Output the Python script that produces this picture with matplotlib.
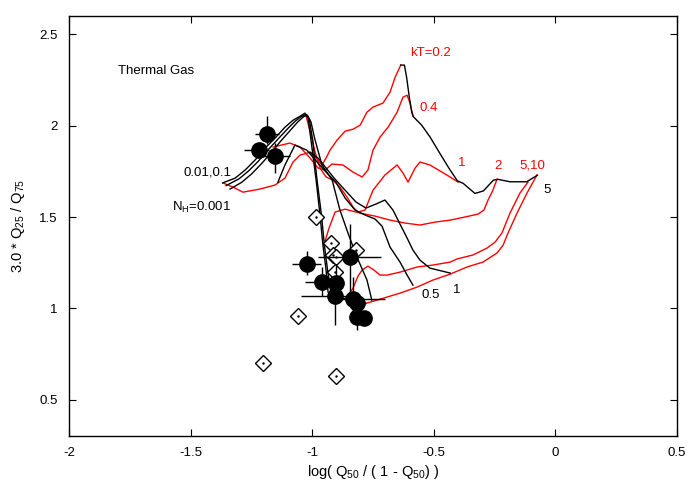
import numpy as np
import matplotlib
matplotlib.use("Agg")
import matplotlib.pyplot as plt

plt.rcParams['font.family'] = ['Liberation Sans', 'DejaVu Sans']
plt.rcParams['mathtext.fontset'] = 'custom'
plt.rcParams['mathtext.rm'] = 'Liberation Sans'
plt.rcParams['mathtext.it'] = 'Liberation Sans:italic'

# model grid: black = constant NH, red = constant kT
nh_001_x = [-1.368, -1.317, -1.276, -1.235, -1.194, -1.153, -1.112, -1.079, -1.050, -1.030, -1.017,
            -1.005, -0.984, -0.968, -0.956, -0.943, -0.935, -0.906, -0.857, -0.803]
nh_001_y = [1.687, 1.713, 1.757, 1.812, 1.877, 1.932, 1.992, 2.030, 2.052, 2.069, 2.041,
            1.921, 1.702, 1.511, 1.346, 1.209, 1.089, 1.045, 1.056, 1.018]
nh_01_x = [-1.354, -1.300, -1.262, -1.222, -1.180, -1.140, -1.100, -1.070, -1.045, -1.026, -1.012,
           -0.998, -0.980, -0.962, -0.950, -0.937, -0.925, -0.895, -0.850, -0.800]
nh_01_y = [1.672, 1.710, 1.752, 1.805, 1.870, 1.928, 1.985, 2.025, 2.050, 2.062, 2.035,
           1.920, 1.700, 1.510, 1.346, 1.210, 1.100, 1.060, 1.045, 1.010]
nh_1_x = [-1.338, -1.290, -1.250, -1.210, -1.170, -1.130, -1.090, -1.060, -1.035, -1.020, -1.005,
          -0.990, -0.960, -0.918, -0.886, -0.853, -0.816, -0.775, -0.755]
nh_1_y = [1.653, 1.690, 1.735, 1.790, 1.850, 1.915, 1.975, 2.020, 2.050, 2.058, 2.020,
          1.930, 1.785, 1.702, 1.538, 1.412, 1.280, 1.155, 1.045]
nh_05_x = [-1.141, -1.112, -1.071, -1.022, -0.976, -0.943, -0.903, -0.865, -0.824, -0.783, -0.742,
           -0.713, -0.680, -0.639, -0.610, -0.586]
nh_05_y = [1.691, 1.785, 1.894, 1.866, 1.795, 1.746, 1.691, 1.604, 1.538, 1.511, 1.489,
           1.450, 1.335, 1.253, 1.182, 1.127]
nh_10_x = [-1.009, -0.976, -0.943, -0.910, -0.865, -0.820, -0.779, -0.738, -0.701, -0.668, -0.639,
           -0.610, -0.586, -0.557, -0.516, -0.433]
nh_10_y = [1.855, 1.823, 1.768, 1.713, 1.647, 1.582, 1.549, 1.571, 1.593, 1.538, 1.461,
           1.385, 1.319, 1.264, 1.220, 1.193]
nh_50_x = [-0.636, -0.621, -0.612, -0.601, -0.591, -0.584, -0.550, -0.516, -0.475, -0.433, -0.403,
           -0.379, -0.331, -0.296, -0.255, -0.235, -0.187, -0.118, -0.074]
nh_50_y = [2.332, 2.332, 2.266, 2.158, 2.076, 2.049, 2.003, 1.939, 1.848, 1.757, 1.698,
           1.684, 1.629, 1.643, 1.702, 1.706, 1.693, 1.693, 1.729]

kt_02_x = [-1.368, -1.326, -1.285, -1.215, -1.153, -1.112, -1.079, -1.050, -1.009, -0.976, -0.960,
           -0.943, -0.927, -0.898, -0.865, -0.832, -0.803, -0.775, -0.750, -0.709, -0.680, -0.659, -0.636]
kt_02_y = [1.687, 1.664, 1.636, 1.653, 1.675, 1.713, 1.801, 1.839, 1.855, 1.812, 1.785,
           1.823, 1.866, 1.921, 1.970, 1.981, 2.003, 2.074, 2.102, 2.124, 2.184, 2.266, 2.332]
kt_04_x = [-1.161, -1.092, -1.050, -1.009, -0.976, -0.947, -0.919, -0.874, -0.832, -0.795, -0.771,
           -0.750, -0.721, -0.688, -0.651, -0.627, -0.610, -0.598, -0.586]
kt_04_y = [1.883, 1.905, 1.883, 1.823, 1.768, 1.757, 1.790, 1.785, 1.746, 1.719, 1.757,
           1.866, 1.938, 1.992, 2.074, 2.156, 2.167, 2.124, 2.052]
kt_1_x = [-1.025, -1.005, -0.988, -0.968, -0.943, -0.915, -0.886, -0.857, -0.832, -0.812, -0.783,
          -0.750, -0.701, -0.651, -0.627, -0.606, -0.577, -0.557, -0.516, -0.433, -0.400]
kt_1_y = [2.052, 1.948, 1.855, 1.768, 1.719, 1.702, 1.664, 1.609, 1.554, 1.527, 1.538,
          1.647, 1.730, 1.785, 1.741, 1.691, 1.768, 1.801, 1.785, 1.719, 1.691]
kt_2_x = [-0.952, -0.931, -0.906, -0.865, -0.803, -0.742, -0.680, -0.619, -0.557, -0.495, -0.433,
          -0.372, -0.318, -0.294, -0.277, -0.257, -0.240]
kt_2_y = [1.346, 1.439, 1.527, 1.543, 1.521, 1.505, 1.483, 1.467, 1.456, 1.472, 1.483,
          1.500, 1.516, 1.538, 1.593, 1.647, 1.708]
kt_5_x = [-0.857, -0.832, -0.812, -0.795, -0.771, -0.746, -0.721, -0.692, -0.639, -0.569, -0.503,
          -0.433, -0.405, -0.339, -0.281, -0.248, -0.220, -0.187, -0.146, -0.113]
kt_5_y = [1.061, 1.111, 1.176, 1.209, 1.231, 1.209, 1.182, 1.182, 1.198, 1.226, 1.237,
          1.253, 1.270, 1.292, 1.330, 1.363, 1.412, 1.521, 1.631, 1.691]
kt_10_x = [-0.803, -0.733, -0.639, -0.569, -0.503, -0.433, -0.364, -0.298, -0.240, -0.215, -0.195,
           -0.158, -0.117, -0.076]
kt_10_y = [1.018, 1.045, 1.083, 1.116, 1.155, 1.187, 1.226, 1.253, 1.303, 1.346, 1.412,
           1.521, 1.631, 1.730]

# sources with errors
src_x = [-1.187, -1.219, -1.153, -1.022, -0.846, -0.961, -0.901, -0.906, -0.831, -0.817, -0.817, -0.787]
src_y = [1.952, 1.866, 1.833, 1.242, 1.282, 1.145, 1.140, 1.067, 1.049, 1.027, 0.950, 0.945]
src_xlo = [0.05, 0.06, 0.06, 0.06, 0.13, 0.07, 0.03, 0.14, 0.05, 0.04, 0.03, 0.03]
src_xhi = [0.05, 0.04, 0.06, 0.06, 0.13, 0.03, 0.03, 0.10, 0.13, 0.04, 0.03, 0.03]
src_ylo = [0.05, 0.03, 0.09, 0.06, 0.22, 0.08, 0.05, 0.16, 0.10, 0.05, 0.07, 0.03]
src_yhi = [0.10, 0.03, 0.07, 0.07, 0.18, 0.08, 0.10, 0.09, 0.12, 0.05, 0.04, 0.03]

# other sources (open diamonds)
dia_x = [-0.984, -0.922, -0.820, -0.913, -0.903, -0.906, -1.057, -1.204, -0.901]
dia_y = [1.501, 1.360, 1.322, 1.291, 1.280, 1.198, 0.957, 0.702, 0.629]

fig = plt.figure(figsize=(7, 4.9), dpi=100)
ax = fig.add_axes([0.0986, 0.110, 0.8686, 0.857])

black = [(nh_001_x, nh_001_y), (nh_01_x, nh_01_y), (nh_1_x, nh_1_y),
         (nh_05_x, nh_05_y), (nh_10_x, nh_10_y), (nh_50_x, nh_50_y)]
red = [(kt_02_x, kt_02_y), (kt_04_x, kt_04_y), (kt_1_x, kt_1_y),
       (kt_2_x, kt_2_y), (kt_5_x, kt_5_y), (kt_10_x, kt_10_y)]
for xs, ys in red:
    ax.plot(xs, ys, color='red', lw=1.0)
for xs, ys in black:
    ax.plot(xs, ys, color='black', lw=1.0)

ax.plot(dia_x, dia_y, 'D', ms=8, mfc='white', mec='black', mew=1.0, ls='none')
ax.plot(dia_x, dia_y, '.', ms=1.5, color='black', ls='none')

ax.errorbar(src_x, src_y, xerr=[src_xlo, src_xhi], yerr=[src_ylo, src_yhi],
            fmt='o', color='black', ms=11, elinewidth=1.0, capsize=0)

fs = 9.5
ax.text(-1.799, 2.299, 'Thermal Gas', fontsize=fs, va='center')
ax.text(-1.531, 1.746, '0.01,0.1', fontsize=fs, va='center')
ax.text(-1.578, 1.554, r'N$_\mathrm{H}$=0.001', fontsize=fs, va='center')
ax.text(-0.036, 1.647, '5', fontsize=fs, va='center', ha='center')
ax.text(-0.550, 1.072, '0.5', fontsize=fs, va='center')
ax.text(-0.406, 1.100, '1', fontsize=fs, va='center', ha='center')
ax.text(-0.598, 2.398, 'kT=0.2', fontsize=fs, va='center', color='red')
ax.text(-0.557, 2.096, '0.4', fontsize=fs, va='center', color='red')
ax.text(-0.385, 1.795, '1', fontsize=fs, va='center', ha='center', color='red')
ax.text(-0.235, 1.780, '2', fontsize=fs, va='center', ha='center', color='red')
ax.text(-0.150, 1.780, '5,10', fontsize=fs, va='center', color='red')

ax.set_xlim(-2, 0.5)
ax.set_ylim(0.3, 2.6)
xt = [-2, -1.5, -1, -0.5, 0, 0.5]
yt = [0.5, 1, 1.5, 2, 2.5]
ax.set_xticks(xt)
ax.set_xticklabels(['%g' % v for v in xt])
ax.set_yticks(yt)
ax.set_yticklabels(['%g' % v for v in yt])
ax.tick_params(direction='in', top=True, right=True, length=5, width=0.8,
               labelsize=9.5, pad=8)
for s in ax.spines.values():
    s.set_linewidth(1.0)

ax.set_xlabel(r'log( Q$_{50}$ / ( 1 - Q$_{50}$) )', fontsize=10.5, labelpad=3)
ax.set_ylabel(r'3.0 * Q$_{25}$ / Q$_{75}$', fontsize=10.5, labelpad=9)

fig.savefig('out.png', dpi=100)
